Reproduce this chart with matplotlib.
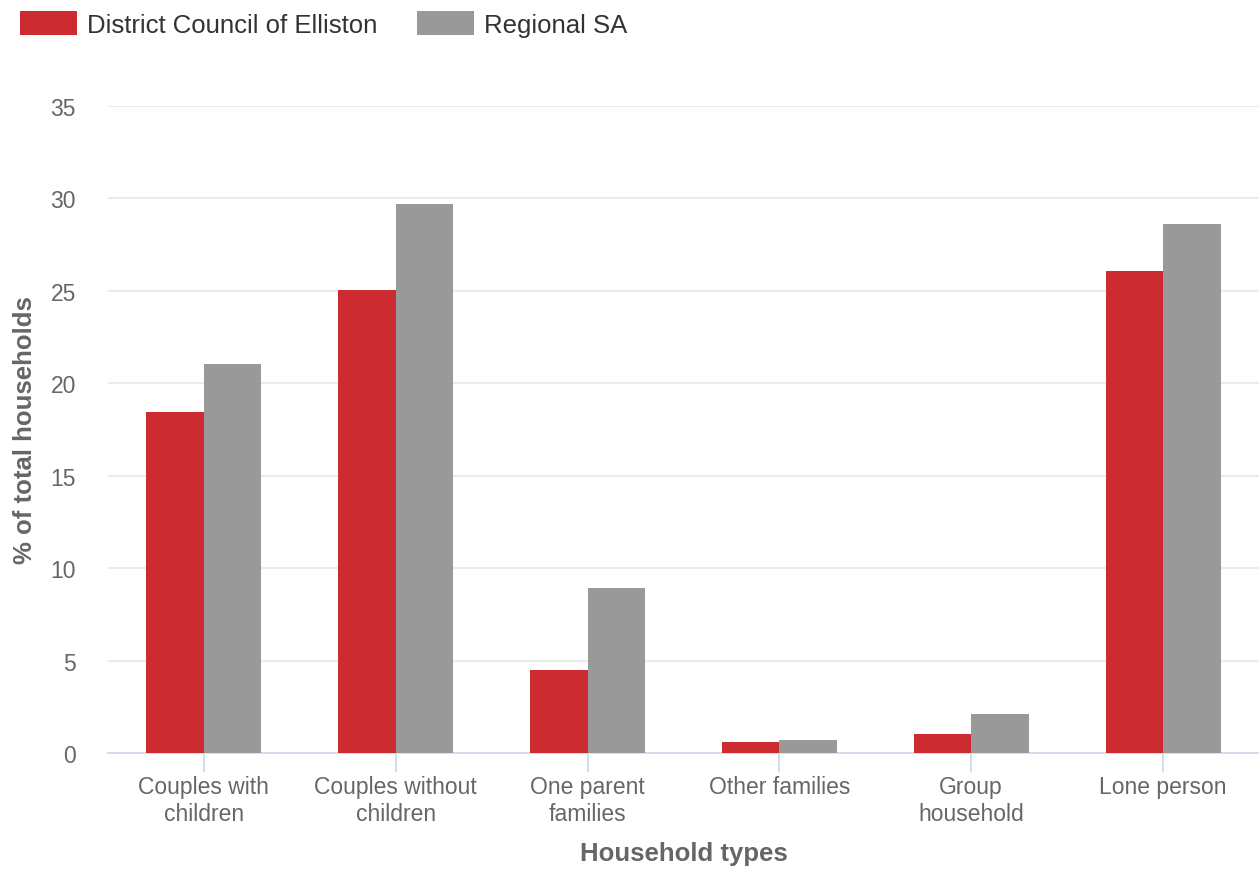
import matplotlib.pyplot as plt
import numpy as np

plt.rcParams['font.family'] = ['Liberation Sans', 'DejaVu Sans']

categories = ['Couples with\nchildren', 'Couples without\nchildren', 'One parent\nfamilies',
              'Other families', 'Group\nhousehold', 'Lone person']
elliston = [18.44, 25.04, 4.49, 0.6, 1.03, 26.1]
regional = [21.04, 29.7, 8.92, 0.72, 2.1, 28.6]
yticks = [0, 5, 10, 15, 20, 25, 30, 35]

red = '#cc2b31'
grey = '#999999'
txt = '#666666'

fig = plt.figure(figsize=(12.59, 8.70), dpi=100)
ax = fig.add_axes([108/1259, 1 - 754/870, 1 - 108/1259, (754 - 107)/870])

x = np.arange(len(categories))
w = 0.30
ax.bar(x - w/2, elliston, w, color=red, label='District Council of Elliston', zorder=3)
ax.bar(x + w/2, regional, w, color=grey, label='Regional SA', zorder=3)

ax.set_xlim(-0.5, len(categories) - 0.5)
ax.set_ylim(0, 35)
ax.set_yticks(yticks)
ax.grid(axis='y', color='#e6e6e6', linewidth=1.2, zorder=0)
ax.set_xticks(x)
ax.set_xticklabels(categories, fontsize=16.5, color=txt, linespacing=1.2)
ax.tick_params(axis='x', length=14, width=1.2, color='#ccd6eb', pad=2)
ax.tick_params(axis='y', length=0, labelsize=16.5, labelcolor=txt, pad=23)
for s in ['top', 'right', 'left']:
    ax.spines[s].set_visible(False)
ax.spines['bottom'].set_color('#ccd6eb')
ax.spines['bottom'].set_linewidth(1.2)

ax.set_xlabel('Household types', fontsize=18.5, fontweight='bold', color=txt, labelpad=12)
ax.set_ylabel('% of total households', fontsize=18.5, fontweight='bold', color=txt, labelpad=10)

ax.legend(loc='upper left', bbox_to_anchor=(-88/1151, 1 + 95/647), ncol=2, frameon=False,
          fontsize=18.5, labelcolor='#333333', handlelength=2.2, handleheight=1.05,
          columnspacing=1.55, handletextpad=0.4, borderaxespad=0, borderpad=0)

fig.savefig('out.png', dpi=100)
